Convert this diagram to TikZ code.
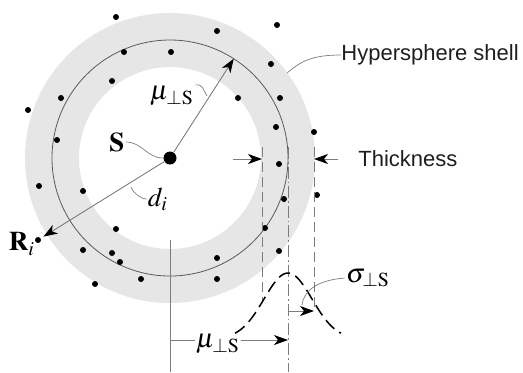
\documentclass[tikz,border=0pt]{standalone}
\usepackage{amsmath}
\usepackage{mathptmx}
\usepackage[no-math]{fontspec}
\setmainfont{Liberation Serif}
\setsansfont{Liberation Sans}
\usepackage{tikz}
\usetikzlibrary{arrows.meta,calc,positioning}
\definecolor{ink}{HTML}{1E1E1E}
\definecolor{wiregray}{HTML}{7C7C7C}
\definecolor{shell}{HTML}{E6E6E6}
\definecolor{ringgray}{HTML}{5A5A5A}

\begin{document}
\begin{tikzpicture}[x=0.5pt,y=-0.5pt,
  pt/.style={circle,fill=black,inner sep=0pt,minimum size=3pt},
  ctr/.style={circle,fill=black,inner sep=0pt,minimum size=6.5pt},
  ring/.style={draw=ringgray,line width=0.4pt},
  wire/.style={draw=wiregray,line width=0.45pt},
  arr/.style={wire,-{Stealth[length=7pt,width=5pt,inset=2pt,color=black]}},
  lead/.style={draw=wiregray,line width=0.35pt},
  guide/.style={draw=wiregray,line width=0.45pt,dash pattern=on 5pt off 2.5pt},
  axisline/.style={draw=wiregray,line width=0.45pt,
                   dash pattern=on 6pt off 1.5pt on 0.8pt off 1.5pt},
  bell/.style={draw=black,line width=0.75pt,dash pattern=on 6pt off 3pt},
  txt/.style={font=\fontsize{11}{13}\selectfont\sffamily,text=ink,inner sep=0pt},
  sym/.style={font=\fontsize{13.5}{15}\selectfont,inner sep=0.5pt}
]
\useasboundingbox (0,0) rectangle (523,372);

% shell and mean sphere
\coordinate (O) at (170,158);
\fill[shell,even odd rule] (O) circle (145) (O) circle (91);
\draw[ring] (O) circle (118);

% sample points
\foreach \x/\y [count=\i] in {116/17,217/31,124/52,171/52,112/81,61/98,238/98,
    28/110,57/140,39/186,83/191,116/229,83/250,112/253,120/262,141/279,95/284,
    217/258,217/279,277/25,271/64,280/98,276/127,314/132,279/164,284/199,
    317/195,265/228,279/251}{
  \node[pt] (p\i) at (\x,\y) {};
}
\node[pt] (Ri) at (38,240) {};
\node[ctr] (S) at (O) {};

% guide lines
\coordinate (inTop) at (262,147);
\coordinate (inBot) at (262,303);
\coordinate (midTop) at (288,147);
\coordinate (midBot) at (288,372);
\coordinate (outTop) at (314,147);
\coordinate (outBot) at (314,311);
\draw[guide] (inTop) -- (inBot);
\draw[guide] (outTop) -- (outBot);
\draw[axisline] (midTop) -- (midBot);
\coordinate (axTop) at (170,240);
\coordinate (axBot) at (170,372);
\draw[wire] (axTop) -- (axBot);

% radii
\coordinate (rim) at ($(O)+(-57.3:118)$);
\draw[arr] (S) -- (rim);
\draw[arr,shorten >=1.5pt] (S) -- (Ri);

% labels
\node[sym] (Slab) at (117,142) {$\mathbf{S}$};
\draw[lead] (Slab.east) .. controls +(16,0) and +(-16,0) .. (S.west);
\node[sym] (mutop) at (172,96) {$\mu_{\perp\mathrm{S}}$};
\coordinate (muleg) at (207,96);
\draw[lead] (mutop.north east) .. controls +(8,-1) and +(-4,-6) .. (muleg);
\node[sym] (Rlab) at (22,244) {$\mathbf{R}_i$};
\node[sym] (dlab) at (158,199) {$d_i$};
\coordinate (dleg) at (131,187);
\draw[lead] (dleg) .. controls +(2,6) and +(-5,0) .. (dlab.west);

\node[txt,anchor=west] (hyp) at (341,55) {Hypersphere shell};
\coordinate (shellEdge) at ($(O)+(-36:145)$);
\draw[lead] (hyp.west) .. controls +(-28,0) and +(14,-12) .. (shellEdge);

\node[txt,anchor=west] (thick) at (358,159) {Thickness};
\coordinate (thL) at (233,159);
\draw[arr] (thL) -- (inTop |- thick.west);
\draw[arr,shorten <=10pt] (thick.west) -- (outTop |- thick.west);

% distribution across the shell
\coordinate (muL) at (170,340);
\coordinate (muR) at (288,340);
\draw[arr] (muL) -- (muR);
\node[sym,fill=white,inner sep=0.3pt] (mubot) at (218,344) {$\mu_{\perp\mathrm{S}}$};
\draw[bell] plot[domain=-53:53,samples=60]
  ({288+\x},{339-66*exp(-((\x/24)^2)/2)});
\coordinate (sgL) at (288,311);
\coordinate (sgR) at (314,311);
\draw[arr] (sgL) -- (sgR);
\node[sym] (sglab) at (368,278) {$\sigma_{\perp\mathrm{S}}$};
\coordinate (sgleg) at (302,305);
\draw[lead] (sglab.west) .. controls +(-25,2) and +(2,-16) .. (sgleg);
\end{tikzpicture}
\end{document}
